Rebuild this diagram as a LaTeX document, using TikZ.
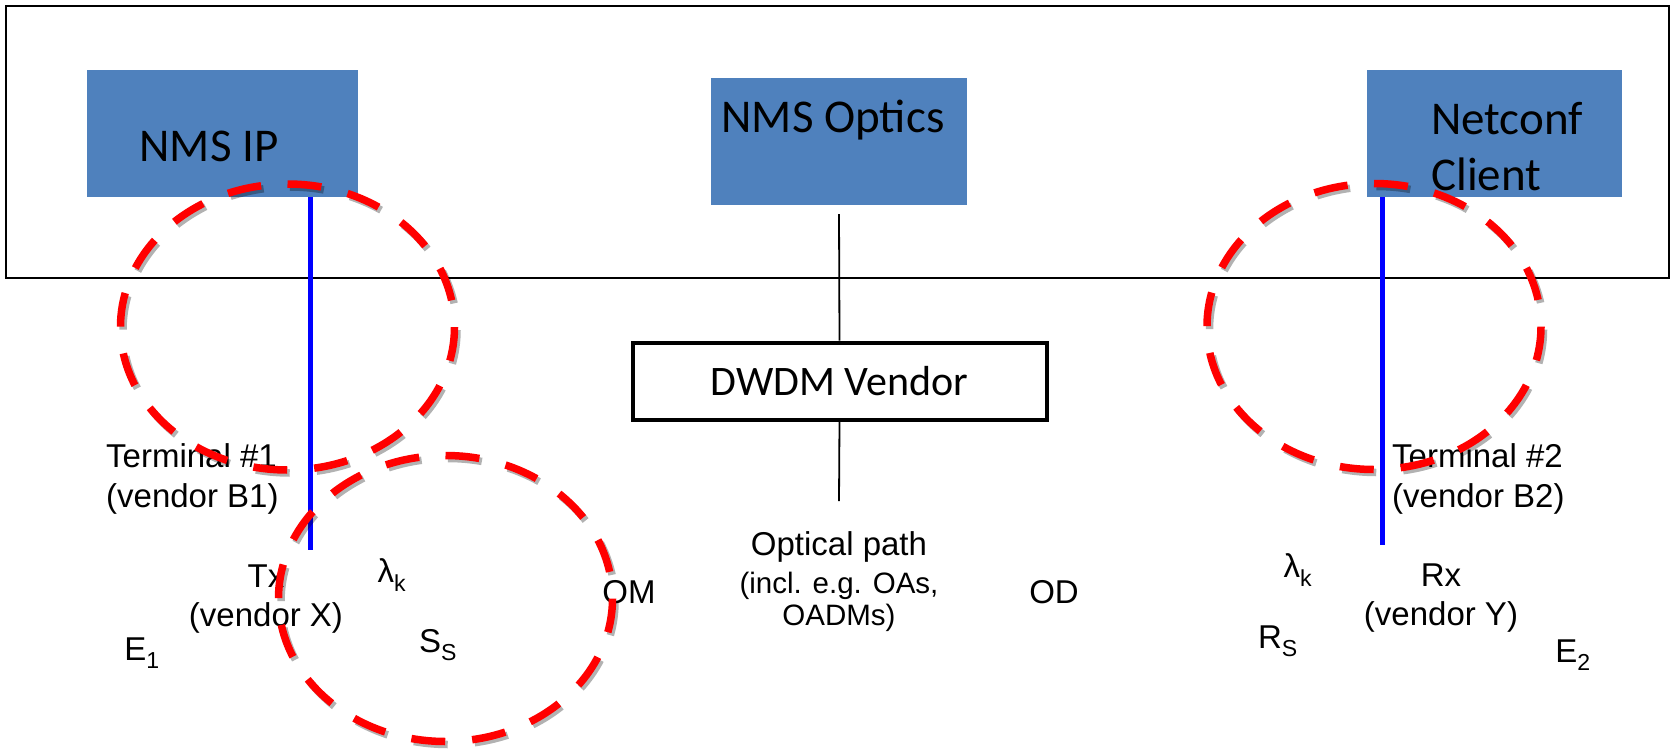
\documentclass[tikz,border=0pt]{standalone}
\usepackage{fontspec}
\setmainfont{Liberation Sans}
\newfontfamily\calib{Carlito}
\definecolor{boxblue}{RGB}{79,129,189}
\begin{document}
\begin{tikzpicture}[x=1pt,y=-1pt,
  nmsbox/.style={fill=boxblue, draw=none, inner sep=0pt, minimum height=127pt},
  boxtext/.style={font={\calib\fontsize{47}{56}\selectfont}, inner sep=0pt, align=left},
  lbl/.style={font={\fontsize{33}{39.5}\selectfont}, inner sep=0pt},
  smalllbl/.style={font={\fontsize{29.5}{32}\selectfont}, inner sep=0pt, align=center},
  tie/.style={draw=blue, line width=5pt},
  conn/.style={draw=black, line width=1.8pt},
  zone/.style={draw=red, line width=7.5pt, dash pattern=on 34pt off 27pt},
  zoneshadow/.style={draw=black, draw opacity=0.3, line width=7.5pt, dash pattern=on 34pt off 27pt}
]
\useasboundingbox (0,0) rectangle (1671,750);
\fill[white] (0,0) rectangle (1671,750);
% management area
\draw[line width=1.8pt] (6,6) rectangle (1669,278);
% boxes
\node[nmsbox, minimum width=271pt] (nmsip) at (222.5,133.5) {};
\node[nmsbox, minimum width=256pt] (nmsopt) at (839,141.5) {};
\node[nmsbox, minimum width=255pt] (netconf) at (1494.5,133.5) {};
\node[boxtext] (nmsiptxt) at (209,146) {NMS IP};
\node[boxtext] (nmsopttxt) at (833,120) {NMS Optics};
\node[boxtext, anchor=west] (netconftxt) at (1431,147) {Netconf\\Client};
\node[draw=black, line width=4pt, minimum width=414pt, minimum height=77pt, inner sep=0pt,
      font={\calib\fontsize{42}{50}\selectfont}] (dwdm) at (839.5,381) {DWDM Vendor};
% connectors
\coordinate (optend) at (839,501);
\coordinate (txend) at (310,550);
\coordinate (rxend) at (1382,545);
\draw[conn] ([yshift=-9pt]nmsopt.south) -- (dwdm.north);
\draw[conn] (dwdm.south) -- (optend);
\draw[tie] (nmsip.south -| txend) -- (txend);
\draw[tie] (netconf.south -| rxend) -- (rxend);
% labels
\node[lbl, anchor=west, align=left] (term1) at (106,479) {Terminal \#1\\(vendor B1)};
\node[lbl, anchor=west, align=left] (term2) at (1392,479) {Terminal \#2\\(vendor B2)};
\node[lbl, align=center] (tx) at (266,599) {Tx\\(vendor X)};
\node[lbl, align=center] (rx) at (1441,598) {Rx\\(vendor Y)};
\node[lbl] (lam1) at (392,575) {λ\textsubscript{k}};
\node[lbl] (lam2) at (1298,570) {λ\textsubscript{k}};
\node[lbl] (om) at (629,592) {OM};
\node[lbl] (od) at (1054,592) {OD};
\node[lbl] (opt1) at (839,547) {Optical path};
\node[smalllbl] (opt2) at (839,602) {(incl. e.g. OAs,\\OADMs)};
\node[lbl] (e1) at (142,653) {E\textsubscript{1}};
\node[lbl] (ss) at (438,645) {S\textsubscript{S}};
\node[lbl] (rs) at (1278,641) {R\textsubscript{S}};
\node[lbl] (e2) at (1573,655) {E\textsubscript{2}};
% dashed red zones with shadow
\foreach \cx/\cy in {287.5/327, 445.5/598.5, 1374/326.5} {
  \draw[zoneshadow] (\cx+2.5,\cy-140) arc[start angle=90, end angle=-270, x radius=167pt, y radius=143pt];
  \draw[zone] (\cx,\cy-143) arc[start angle=90, end angle=-270, x radius=167pt, y radius=143pt];
}
\end{tikzpicture}
\end{document}
